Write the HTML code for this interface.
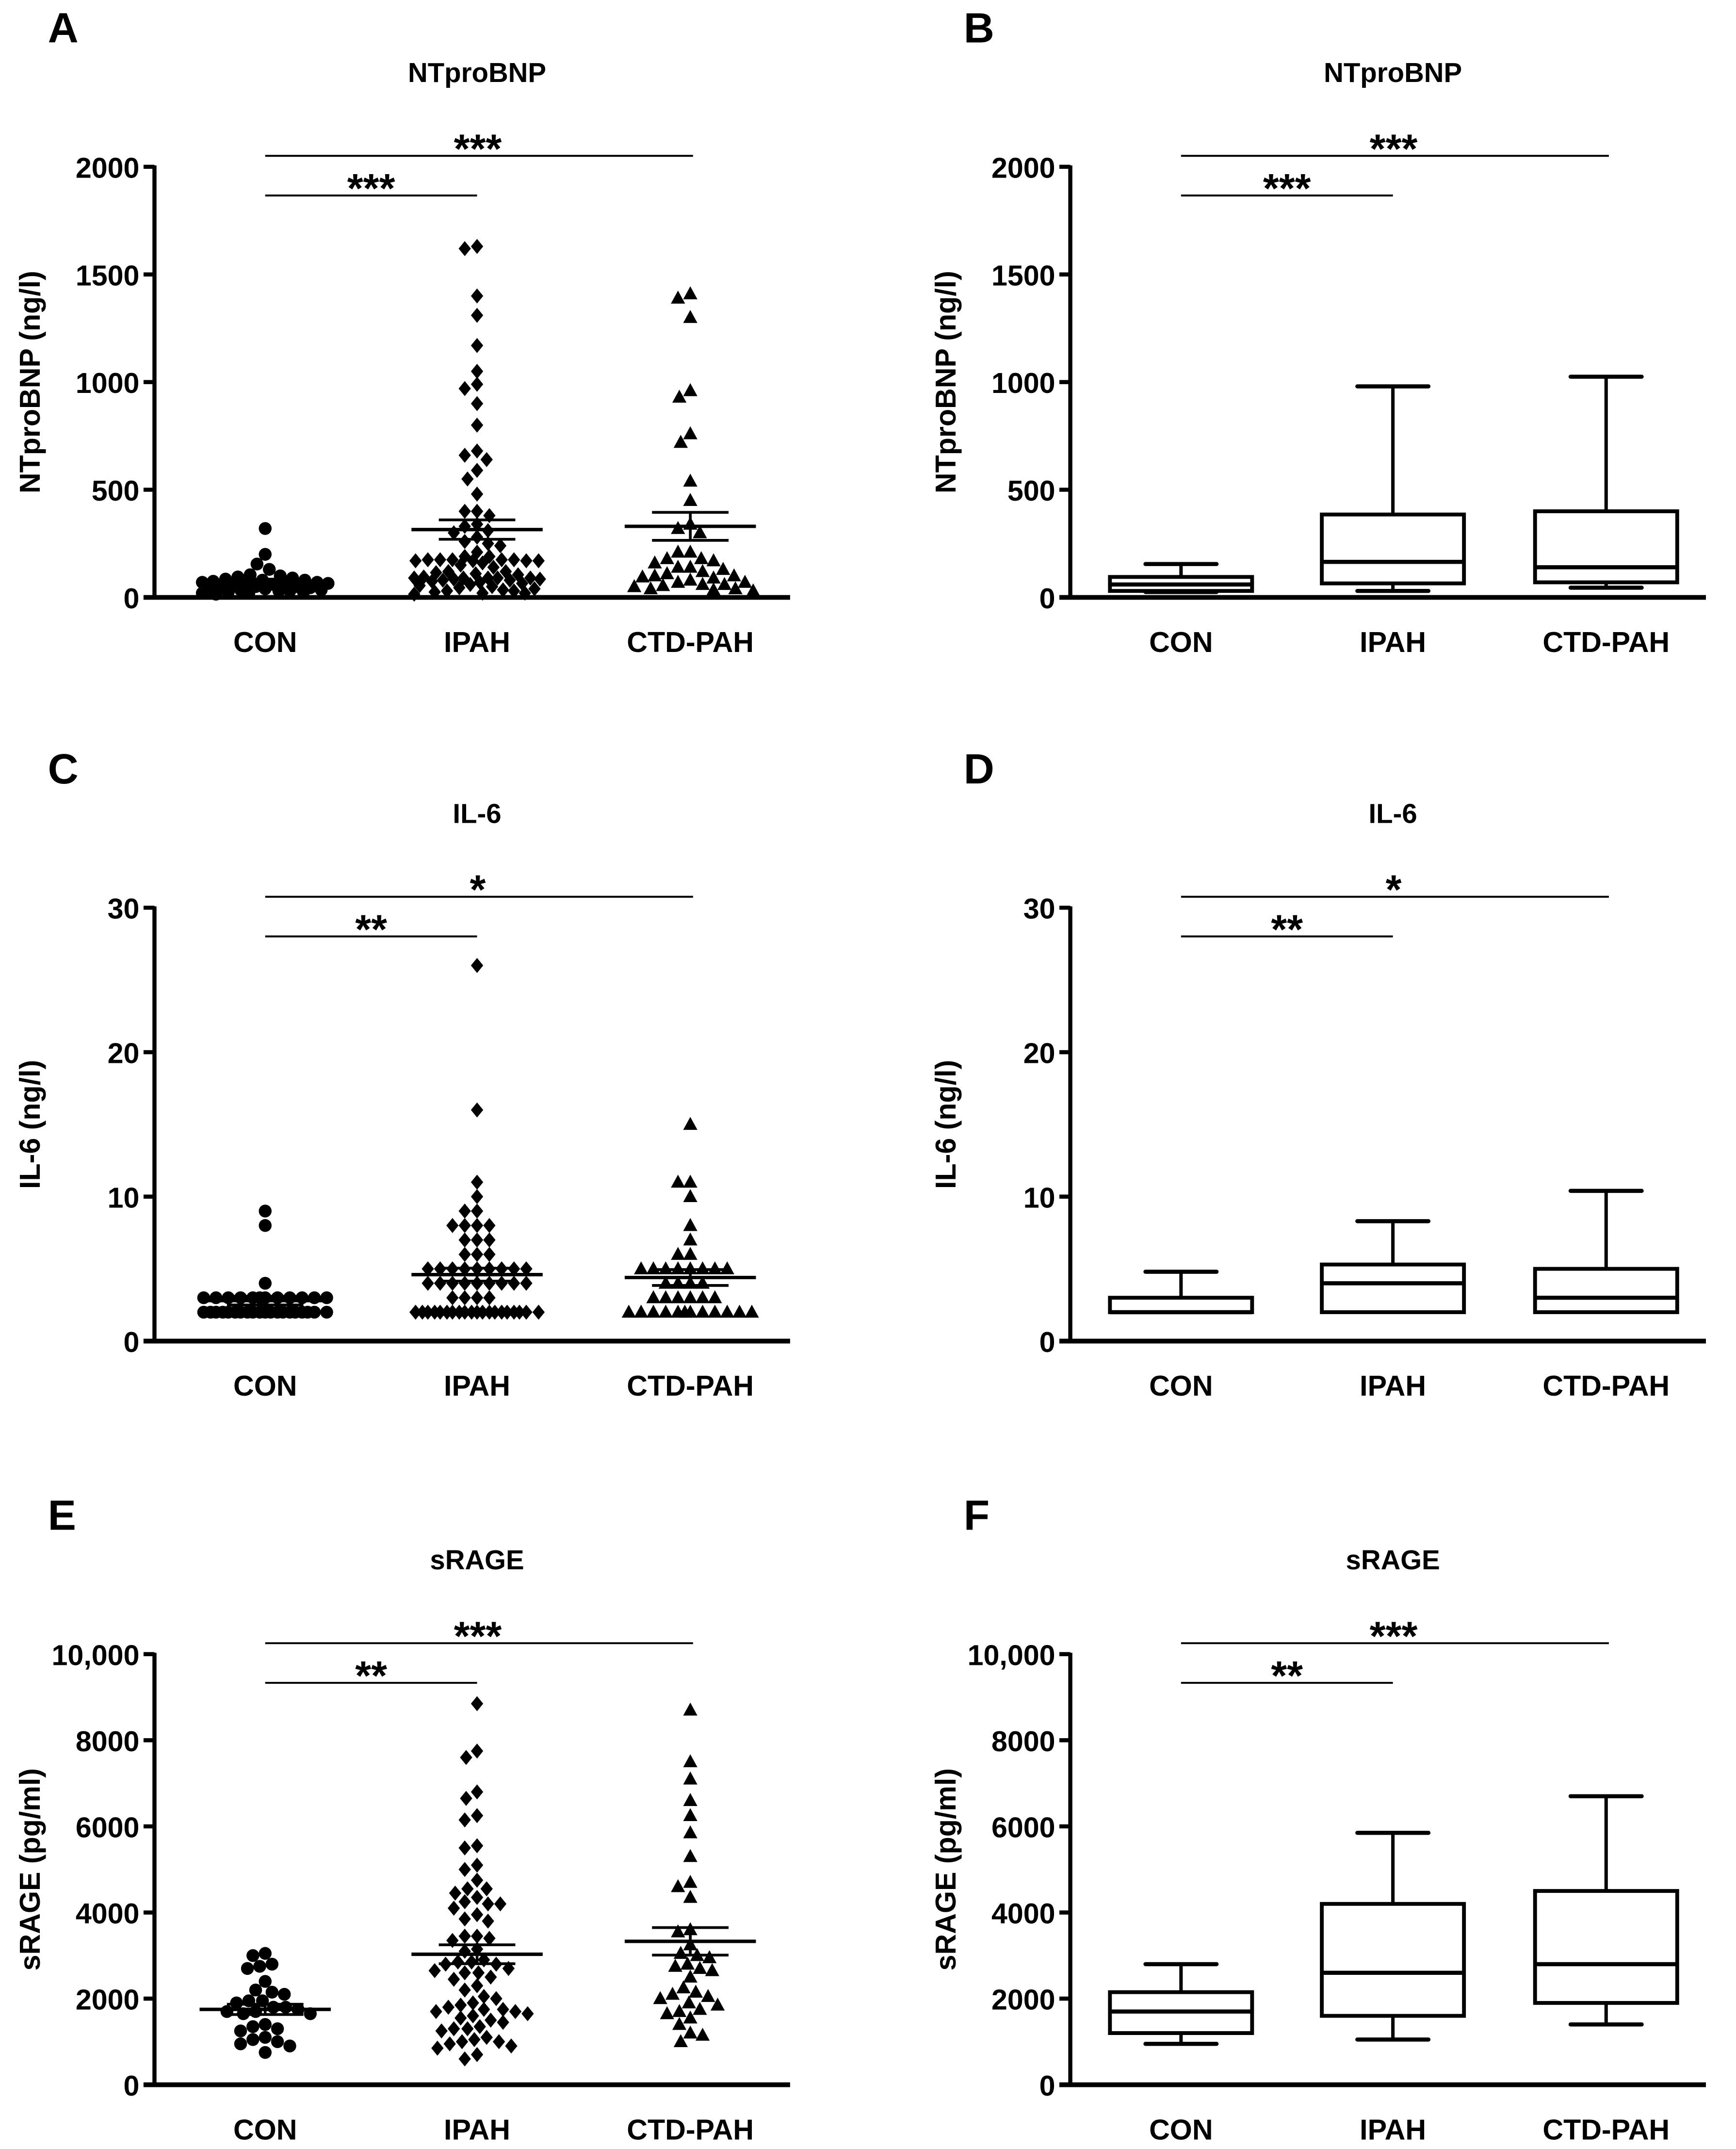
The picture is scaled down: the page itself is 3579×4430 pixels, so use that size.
<!DOCTYPE html>
<html><head><meta charset="utf-8">
<style>
html,body{margin:0;padding:0;background:#fff;}
svg{display:block;}
text{font-family:"Liberation Sans Narrow","Liberation Sans",sans-serif;font-weight:bold;fill:#000;}
</style></head>
<body>
<svg id="fig" xmlns="http://www.w3.org/2000/svg" width="3579" height="4430" viewBox="0 0 1270 1572">
<rect width="1270" height="1572" fill="#fff"/>
</svg>
<script>
// ---------- data ----------
const categories = ["CON","IPAH","CTD-PAH"];
const ntCON = [320,200,155,130,105,100,95,90,85,80,80,75,70,70,65,60,60,55,55,50,50,45,45,40,40,35,35,30,30,25,25,20,20,15];
const ntIPAH = [1630,1620,1400,1310,1170,1050,990,970,900,800,680,660,640,590,550,480,400,400,380,340,330,310,300,280,260,250,240,210,190,190,175,175,175,175,175,170,170,170,170,160,150,140,120,120,115,110,105,95,90,90,90,90,90,85,85,80,80,75,70,65,60,55,50,45,40,35,30,30,25,20,20,15];
const ntCTD = [1410,1390,1300,960,930,760,720,540,450,340,320,300,210,210,180,180,170,160,140,140,130,120,110,100,100,95,90,80,70,70,60,60,55,50,40,40,35,30];
const ntMean = [75,315,330];
const ntSem = [10,45,65];
const ntBoxMin = [25,30,45];
const ntBoxQ1 = [30,65,70];
const ntBoxMed = [60,165,140];
const ntBoxQ3 = [95,385,400];
const ntBoxMax = [155,980,1025];
const ilCON = [9,8,4,3,3,3,3,3,3,3,3,3,3,3,3,2,2,2,2,2,2,2,2,2,2,2,2,2,2,2,2,2,2,2,2];
const ilIPAH = [26,16,11,10,9,9,8,8,8,8,7,7,7,6,6,6,5,5,5,5,5,5,5,5,5,4,4,4,4,4,4,4,4,4,3,3,3,3,2,2,2,2,2,2,2,2,2,2,2,2,2,2,2,2,2,2,2,2];
const ilCTD = [15,11,11,10,8,7,6,6,5,5,5,5,5,5,5,5,4,4,4,4,3,3,3,3,3,3,2,2,2,2,2,2,2,2,2,2,2,2];
const ilMean = [2.8,4.6,4.4];
const ilSem = [0.3,0.45,0.55];
const ilBoxMin = [2,2,2];
const ilBoxQ1 = [2,2,2];
const ilBoxMed = [2,4,3];
const ilBoxQ3 = [3,5.3,5];
const ilBoxMax = [4.8,8.3,10.4];
const srCON = [3050,3000,2800,2750,2700,2400,2200,2150,2100,1950,1950,1900,1800,1800,1750,1700,1700,1650,1650,1400,1350,1300,1250,1100,1050,1000,950,900,750];
const srIPAH = [8850,7750,7600,6800,6650,6250,6150,5550,5500,5100,5000,4750,4550,4550,4450,4350,4250,4200,4200,4100,3950,3850,3800,3450,3450,3400,3350,3150,3100,2900,2850,2850,2800,2800,2700,2650,2600,2600,2500,2450,2300,2200,2050,2000,1900,1850,1800,1750,1750,1700,1700,1650,1600,1550,1500,1450,1350,1300,1300,1250,1100,1050,1000,1000,950,900,850,700,600];
const srCTD = [8700,7500,7100,6600,6250,5850,5300,4700,4600,4350,3600,3550,3250,3050,3000,2950,2800,2750,2700,2650,2500,2250,2150,2100,2050,2000,1900,1850,1750,1700,1650,1550,1400,1200,1150,1000];
const srMean = [1750,3030,3330];
const srSem = [120,220,320];
const srBoxMin = [950,1050,1400];
const srBoxQ1 = [1200,1600,1900];
const srBoxMed = [1700,2600,2800];
const srBoxQ3 = [2150,4200,4500];
const srBoxMax = [2800,5850,6700];
const ntTicks = [0,500,1000,1500,2000];
const ntTickLabels = ["0","500","1000","1500","2000"];
const ilTicks = [0,10,20,30];
const ilTickLabels = ["0","10","20","30"];
const srTicks = [0,2000,4000,6000,8000,10000];
const srTickLabels = ["0","2000","4000","6000","8000","10,000"];
const ntSig = ["***","***"];
const ilSig = ["**","*"];
const srSig = ["**","***"];

const NS = "http://www.w3.org/2000/svg";
const svg = document.getElementById("fig");
function el(tag, attrs, parent){
  const e = document.createElementNS(NS, tag);
  for (const k in attrs) e.setAttribute(k, attrs[k]);
  (parent||svg).appendChild(e);
  return e;
}
function txt(s, x, y, size, anchor, parent){
  const t = el("text",{x:x,y:y,"font-size":size,"text-anchor":anchor||"middle"},parent);
  t.textContent = s;
  return t;
}

function panel(cfg){
  const g = el("g",{});
  
  
  const ax = cfg.ax, yT = cfg.yTop, yB = cfg.yBot, max = cfg.max;
  const catX = [ax+81, ax+236, ax+392];
  const y = v => yB - (v/max)*(yB-yT);
  const L = txt(cfg.letter, ax-78, yT-91, 31, "start", g);
  
  
  const T = txt(cfg.title, ax+236, yT-62, 20, "middle", g);
  
  
  const yl = txt(cfg.ylabel, 0, 0, 21, "middle", g);
  yl.setAttribute("transform", `translate(${ax-84},${(yT+yB)/2}) rotate(-90)`);
  
  
  const yaxis = el("line",{x1:ax,y1:yT-1,x2:ax,y2:yB+1.5,stroke:"#000","stroke-width":3},g);
  
  
  const xaxis = el("line",{x1:ax-8,y1:yB,x2:ax+465,y2:yB,stroke:"#000","stroke-width":3.5},g);
  
  
  cfg.ticks.forEach((tv,i)=>{
    const tk = el("line",{x1:ax-8,y1:y(tv),x2:ax,y2:y(tv),stroke:"#000","stroke-width":3},g);
    
    
    const tl = txt(cfg.tickLabels[i], ax-11, y(tv)+8, 21, "end", g);
    
    
  });
  categories.forEach((c,i)=>{
    const cl = txt(c, catX[i], yB+40, 21, "middle", g);
    
    
  });
  const s1y = yT+21, s2y = yT-8;
  const sl1 = el("line",{x1:catX[0],y1:s1y,x2:catX[1],y2:s1y,stroke:"#000","stroke-width":1.4},g);
  
  
  const st1 = txt(cfg.sig[0], (catX[0]+catX[1])/2, s1y+5, 30, "middle", g);
  
  
  const sl2 = el("line",{x1:catX[0],y1:s2y,x2:catX[2]+2,y2:s2y,stroke:"#000","stroke-width":1.4},g);
  
  
  const st2 = txt(cfg.sig[1], (catX[0]+catX[2])/2, s2y+5, 30, "middle", g);
  
  

  if (cfg.scatter){
    const shapes = ["circle","diamond","triangle"];
    cfg.scatter.forEach((vals,gi)=>{
      const placed = [];
      const d = 9;
      const maxOff = 46;
      const sorted = vals.slice().sort((a,b)=>b-a);
      sorted.forEach(v=>{
        const py = y(v);
        let off = null, bestOff = 0, bestD = -1;
        for (let k=0;k<200;k++){
          const o = (k%2===0?1:-1)*Math.ceil(k/2)*1.0;
          if (Math.abs(o) > maxOff) break;
          let minD = 1e9;
          for (const p of placed){ const dx=p[0]-o, dy=p[1]-py; const dd=Math.sqrt(dx*dx+dy*dy); if (dd<minD) minD=dd; }
          if (minD >= d){ off=o; break; }
          if (minD > bestD){ bestD=minD; bestOff=o; }
        }
        if (off===null) off = bestOff;
        placed.push([off,py]);
        const px = catX[gi]+off;
        let m;
        if (shapes[gi]==="circle") m = el("circle",{cx:px,cy:py,r:4.7,fill:"#000"},g);
        else if (shapes[gi]==="diamond") m = el("polygon",{points:`${px},${py-5.5} ${px+4.5},${py} ${px},${py+5.5} ${px-4.5},${py}`,fill:"#000"},g);
        else m = el("polygon",{points:`${px},${py-5.5} ${px+5.2},${py+4} ${px-5.2},${py+4}`,fill:"#000"},g);
        
        
      });
      const mx = catX[gi];
      const mm = el("line",{x1:mx-48,y1:y(cfg.mean[gi]),x2:mx+48,y2:y(cfg.mean[gi]),stroke:"#000","stroke-width":2.5},g);
      
      
      const hi = y(cfg.mean[gi]+cfg.sem[gi]), lo = y(cfg.mean[gi]-cfg.sem[gi]);
      const sv = el("line",{x1:mx,y1:hi,x2:mx,y2:lo,stroke:"#000","stroke-width":2},g);
      
      
      [hi,lo].forEach(yy=>{
        const c = el("line",{x1:mx-28,y1:yy,x2:mx+28,y2:yy,stroke:"#000","stroke-width":2},g);
        
        
      });
    });
  }
  if (cfg.box){
    const b = cfg.box;
    categories.forEach((c,i)=>{
      const cx = catX[i], hw = 52;
      const bg = el("g",{},g);
      
      
      if (b.max[i] > b.q3[i]) {
        el("line",{x1:cx,y1:y(b.q3[i]),x2:cx,y2:y(b.max[i]),stroke:"#000","stroke-width":2.5},bg);
        el("line",{x1:cx-26,y1:y(b.max[i]),x2:cx+26,y2:y(b.max[i]),stroke:"#000","stroke-width":3,"stroke-linecap":"round"},bg);
      }
      if (b.min[i] < b.q1[i]) {
        el("line",{x1:cx,y1:y(b.q1[i]),x2:cx,y2:y(b.min[i]),stroke:"#000","stroke-width":2.5},bg);
        el("line",{x1:cx-26,y1:y(b.min[i]),x2:cx+26,y2:y(b.min[i]),stroke:"#000","stroke-width":3,"stroke-linecap":"round"},bg);
      }
      el("rect",{x:cx-hw,y:y(b.q3[i]),width:2*hw,height:Math.max(0,y(b.q1[i])-y(b.q3[i])),fill:"none",stroke:"#000","stroke-width":2.8},bg);
      el("line",{x1:cx-hw,y1:y(b.med[i]),x2:cx+hw,y2:y(b.med[i]),stroke:"#000","stroke-width":3},bg);
    });
  }
}

const rows = [[122,437],[664,981],[1210,1525]];
panel({name:"panel-a",letter:"A",title:"NTproBNP",ylabel:"NTproBNP (ng/l)",ax:113,yTop:rows[0][0],yBot:rows[0][1],max:2000,ticks:ntTicks,tickLabels:ntTickLabels,sig:ntSig,scatter:[ntCON,ntIPAH,ntCTD],mean:ntMean,sem:ntSem});
panel({name:"panel-b",letter:"B",title:"NTproBNP",ylabel:"NTproBNP (ng/l)",ax:783,yTop:rows[0][0],yBot:rows[0][1],max:2000,ticks:ntTicks,tickLabels:ntTickLabels,sig:ntSig,box:{min:ntBoxMin,q1:ntBoxQ1,med:ntBoxMed,q3:ntBoxQ3,max:ntBoxMax}});
panel({name:"panel-c",letter:"C",title:"IL-6",ylabel:"IL-6 (ng/l)",ax:113,yTop:rows[1][0],yBot:rows[1][1],max:30,ticks:ilTicks,tickLabels:ilTickLabels,sig:ilSig,scatter:[ilCON,ilIPAH,ilCTD],mean:ilMean,sem:ilSem});
panel({name:"panel-d",letter:"D",title:"IL-6",ylabel:"IL-6 (ng/l)",ax:783,yTop:rows[1][0],yBot:rows[1][1],max:30,ticks:ilTicks,tickLabels:ilTickLabels,sig:ilSig,box:{min:ilBoxMin,q1:ilBoxQ1,med:ilBoxMed,q3:ilBoxQ3,max:ilBoxMax}});
panel({name:"panel-e",letter:"E",title:"sRAGE",ylabel:"sRAGE (pg/ml)",ax:113,yTop:rows[2][0],yBot:rows[2][1],max:10000,ticks:srTicks,tickLabels:srTickLabels,sig:srSig,scatter:[srCON,srIPAH,srCTD],mean:srMean,sem:srSem});
panel({name:"panel-f",letter:"F",title:"sRAGE",ylabel:"sRAGE (pg/ml)",ax:783,yTop:rows[2][0],yBot:rows[2][1],max:10000,ticks:srTicks,tickLabels:srTickLabels,sig:srSig,box:{min:srBoxMin,q1:srBoxQ1,med:srBoxMed,q3:srBoxQ3,max:srBoxMax}});
</script>
</body></html>
